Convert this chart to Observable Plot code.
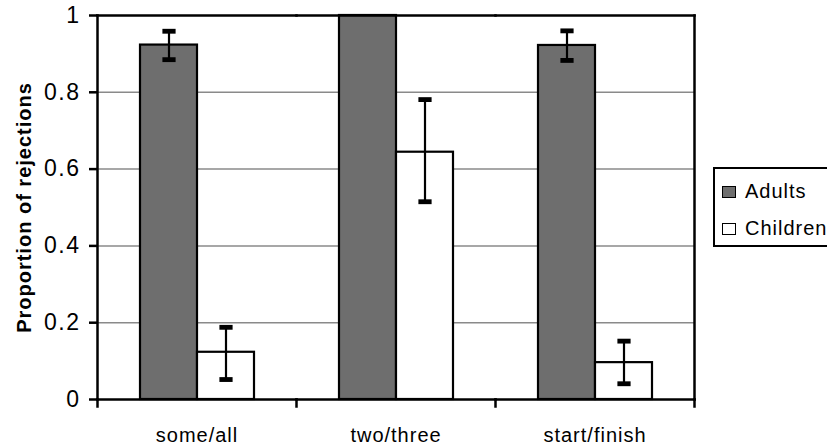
<!DOCTYPE html>
<html>
<head>
<meta charset="utf-8">
<script src="https://cdn.jsdelivr.net/npm/d3@7"></script>
<script src="https://cdn.jsdelivr.net/npm/@observablehq/plot@0.6"></script>
<style>
  html, body { margin: 0; padding: 0; background: #fff; }
  #wrap { position: relative; width: 827px; height: 446px; overflow: hidden; font-family: "Liberation Sans", Arial, sans-serif; }
  #legend { position: absolute; left: 713px; top: 167px; width: 150px; height: 76px; border: 2px solid #000; background: #fff; }
  .row { position: absolute; left: 7px; font-size: 20px; line-height: 20px; letter-spacing: 1px; color: #000; white-space: nowrap; }
  .sw { display: inline-block; box-sizing: border-box; width: 14px; height: 12px; border: 1.5px solid #000; margin-right: 9px; vertical-align: 0px; }
  #wrap svg text.ytick { font-size: 23px; letter-spacing: 1.5px; }
</style>
</head>
<body>
<div id="wrap"></div>
<script>
const categories = ["some/all", "two/three", "start/finish"];
const groups = ["Adults", "Children"];
const adultsValue = [0.923, 1.0, 0.922];
const adultsLow = [0.885, null, 0.883];
const adultsHigh = [0.959, null, 0.960];
const childrenValue = [0.123, 0.644, 0.096];
const childrenLow = [0.052, 0.515, 0.041];
const childrenHigh = [0.188, 0.781, 0.152];
const yTicks = [0, 0.2, 0.4, 0.6, 0.8, 1];
const gridTicks = [0.2, 0.4, 0.6, 0.8];
const groupFill = ["#6e6e6e", "#ffffff"];
const yLabel = "Proportion of rejections";

const rows = [];
categories.forEach((c, i) => {
  rows.push({category: c, group: "Adults", value: adultsValue[i], lo: adultsLow[i], hi: adultsHigh[i]});
  rows.push({category: c, group: "Children", value: childrenValue[i], lo: childrenLow[i], hi: childrenHigh[i]});
});
const errs = rows.filter(d => d.lo != null);

const W = 827, H = 446, mL = 97, mR = 133, mT = 15, mB = 47;
const plotH = H - mT - mB;
const border = {stroke: "#000", strokeWidth: 2.5};

const chart = Plot.plot({
  width: W, height: H,
  marginLeft: mL, marginRight: mR, marginTop: mT, marginBottom: mB,
  style: {fontFamily: "'Liberation Sans', Arial, sans-serif", fontSize: "20px", letterSpacing: "1px", background: "#fff", color: "#000"},
  fx: {domain: categories, padding: 0},
  x: {domain: groups, paddingInner: 0, paddingOuter: 0.73, axis: null},
  y: {domain: [0, 1]},
  color: {domain: groups, range: groupFill},
  marks: [
    Plot.ruleY(gridTicks, {stroke: "#8a8a8a", strokeWidth: 1.5}),
    Plot.barY(rows, {fx: "category", x: "group", y: "value", fill: "group", stroke: "#000", strokeWidth: 2.2, inset: 0}),
    Plot.link(errs, {fx: "category", x1: "group", x2: "group", y1: "lo", y2: "hi", stroke: "#000", strokeWidth: 2.2, markerStart: "tick", markerEnd: "tick"}),
    Plot.frame({anchor: "top", ...border}),
    Plot.frame({anchor: "bottom", ...border}),
    Plot.frame({anchor: "left", facetAnchor: "left", ...border}),
    Plot.frame({anchor: "right", facetAnchor: "right", ...border}),
    Plot.frame({anchor: "left", insetTop: plotH, insetBottom: -7, ...border}),
    Plot.frame({anchor: "right", facetAnchor: "right", insetTop: plotH, insetBottom: -7, ...border}),
    Plot.axisY({ticks: yTicks, tickFormat: () => "", tickSize: 8, strokeWidth: 2.5, label: null}),
    Plot.text(yTicks, {y: d => d, text: d => String(d), frameAnchor: "left", facetAnchor: "left", textAnchor: "end", dx: -17, fontSize: 23, className: "ytick"}),
    Plot.text([yLabel], {text: d => d, frameAnchor: "left", facetAnchor: "left", textAnchor: "middle", dx: -73, rotate: -90, fontSize: 20, fontWeight: "bold", letterSpacing: "2.2px"}),
    Plot.axisFx({anchor: "bottom", tickSize: 0, tickPadding: 28, fontSize: 20, label: null})
  ]
});
chart.querySelectorAll("g.ytick text, text.ytick").forEach(t => t.classList.add("ytick"));
const wrap = document.getElementById("wrap");
wrap.appendChild(chart);

const legend = document.createElement("div");
legend.id = "legend";
legend.innerHTML = groups.map((g, i) =>
  `<div class="row" style="top:${12 + i * 37}px"><span class="sw" style="background:${groupFill[i]}"></span>${g}</div>`
).join("");
wrap.appendChild(legend);
</script>
</body>
</html>
